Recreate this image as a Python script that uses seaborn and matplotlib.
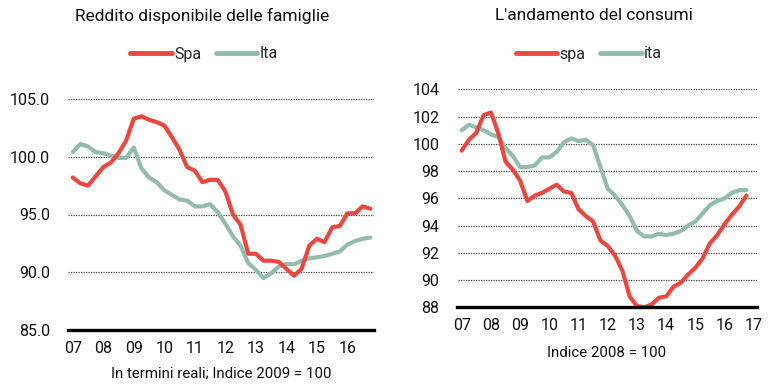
import numpy as np
import pandas as pd
import matplotlib
matplotlib.use("Agg")
import matplotlib.pyplot as plt
import seaborn as sns
from matplotlib.lines import Line2D

# ---------------- data (quarterly, 2007Q1 .. 2016Q4) ----------------
quarters = [2007 + i / 4 for i in range(40)]

reddito_spa = [98.2, 97.7, 97.5, 98.3, 99.1, 99.5, 100.3, 101.4, 103.3, 103.5,
               103.2, 103.0, 102.7, 101.7, 100.6, 99.1, 98.8, 97.8, 98.0, 98.0,
               97.0, 95.0, 94.1, 91.6, 91.6, 91.0, 91.0, 90.9, 90.3, 89.7,
               90.3, 92.3, 92.9, 92.6, 93.9, 94.0, 95.1, 95.1, 95.7, 95.5]
reddito_ita = [100.4, 101.1, 100.9, 100.4, 100.3, 100.1, 99.9, 99.9, 100.8, 99.0,
               98.2, 97.8, 97.1, 96.7, 96.3, 96.2, 95.7, 95.7, 95.9, 95.2,
               94.2, 93.1, 92.3, 90.8, 90.2, 89.5, 89.9, 90.5, 90.7, 90.7,
               91.0, 91.2, 91.3, 91.4, 91.6, 91.8, 92.4, 92.7, 92.9, 93.0]

consumi_spa = [99.5, 100.3, 100.8, 102.1, 102.3, 100.8, 98.7, 98.1, 97.3, 95.8,
               96.2, 96.4, 96.7, 97.0, 96.5, 96.4, 95.2, 94.7, 94.3, 92.9,
               92.5, 91.8, 90.7, 88.8, 88.1, 88.0, 88.2, 88.7, 88.8, 89.5,
               89.8, 90.4, 90.9, 91.6, 92.7, 93.3, 94.1, 94.8, 95.4, 96.2]
consumi_ita = [101.0, 101.4, 101.2, 101.0, 100.7, 100.5, 99.7, 99.1, 98.3, 98.3,
               98.4, 99.0, 99.0, 99.4, 100.1, 100.4, 100.2, 100.3, 99.9, 98.3,
               96.7, 96.2, 95.5, 94.7, 93.6, 93.2, 93.2, 93.4, 93.3, 93.4,
               93.6, 94.0, 94.3, 94.9, 95.5, 95.8, 96.0, 96.4, 96.6, 96.6]

left_ticks = [85.0, 90.0, 95.0, 100.0, 105.0]
right_ticks = [88, 90, 92, 94, 96, 98, 100, 102, 104]
left_xlabels = ["07", "08", "09", "10", "11", "12", "13", "14", "15", "16"]
right_xlabels = ["07", "08", "09", "10", "11", "12", "13", "14", "15", "16", "17"]

RED = "#E8483F"
GREEN = "#93BCAD"

sns.set_style("white")
plt.rcParams["font.family"] = ["Roboto", "DejaVu Sans"]

fig = plt.figure(figsize=(7.77, 3.9), dpi=100)

W, H = 777, 390
def axrect(x0, x1, ytop, ybot):
    return [x0 / W, 1 - ybot / H, (x1 - x0) / W, (ybot - ytop) / H]

axL = fig.add_axes(axrect(68, 374, 99, 330))
axR = fig.add_axes(axrect(457.5, 757, 89.3, 307.3))

def make_df(a, b, na, nb):
    return pd.DataFrame({
        "t": quarters * 2,
        "v": list(a) + list(b),
        "s": [na] * len(a) + [nb] * len(b),
    })

dfL = make_df(reddito_spa, reddito_ita, "Spa", "Ita")
dfR = make_df(consumi_spa, consumi_ita, "spa", "ita")

sns.lineplot(data=dfL, x="t", y="v", hue="s", palette={"Spa": RED, "Ita": GREEN},
             linewidth=3.0, ax=axL, legend=False, sort=False)
sns.lineplot(data=dfR, x="t", y="v", hue="s", palette={"spa": RED, "ita": GREEN},
             linewidth=3.0, ax=axR, legend=False, sort=False)

for ax in (axL, axR):
    lines = ax.get_lines()
    if len(lines) >= 2:
        lines[0].set_zorder(3)
        lines[1].set_zorder(2)

def style(ax, yticks, ylim, xlim, xlabels, fmt):
    ax.set_ylim(*ylim)
    ax.set_xlim(*xlim)
    ax.set_yticks(yticks)
    ax.set_yticklabels([fmt(v) for v in yticks])
    ax.set_xticks([2007 + i for i in range(len(xlabels))])
    ax.set_xticklabels(xlabels)
    for s in ("top", "right", "left"):
        ax.spines[s].set_visible(False)
    ax.spines["bottom"].set_color("black")
    ax.spines["bottom"].set_linewidth(2.4)
    ax.spines["bottom"].set_zorder(4)
    ax.tick_params(axis="both", length=0, labelsize=11.5, colors="#111111")
    ax.tick_params(axis="y", pad=13)
    ax.tick_params(axis="x", pad=8)
    for v in yticks[1:]:
        ax.axhline(v, color="#444444", linewidth=0.9, linestyle=(0, (1, 1)), zorder=1)
    ax.set_xlabel("")
    ax.set_ylabel("")

style(axL, left_ticks, (85, 105), (2006.845, 2016.87), left_xlabels, lambda v: f"{v:.1f}")
style(axR, right_ticks, (88, 104), (2006.856, 2017.11), right_xlabels, lambda v: f"{v:d}")

fig.text(202 / W, 1 - 16 / H, "Reddito disponibile delle famiglie", ha="center", va="center",
         fontsize=12.5, color="#111111")
fig.text(594 / W, 1 - 16 / H, "L'andamento del consumi", ha="center", va="center",
         fontsize=12.5, color="#111111")
fig.text(221 / W, 1 - 374 / H, "In termini reali; Indice 2009 = 100", ha="center", va="center",
         fontsize=10.8, color="#111111")
fig.text(607 / W, 1 - 353 / H, "Indice 2008 = 100", ha="center", va="center",
         fontsize=10.8, color="#111111")

def add_legend(names, cx):
    handles = [Line2D([], [], color=RED, linewidth=3.5),
               Line2D([], [], color=GREEN, linewidth=3.5)]
    fig.legend(handles, names, loc="center", bbox_to_anchor=(cx / W, 1 - 54 / H),
               ncol=2, frameon=False, fontsize=11.5, handlelength=2.6,
               handletextpad=0.15, columnspacing=0.9, borderaxespad=0)

add_legend(["Spa", "Ita"], 204)
add_legend(["spa", "ita"], 589)

fig.savefig("out.png", dpi=100)
